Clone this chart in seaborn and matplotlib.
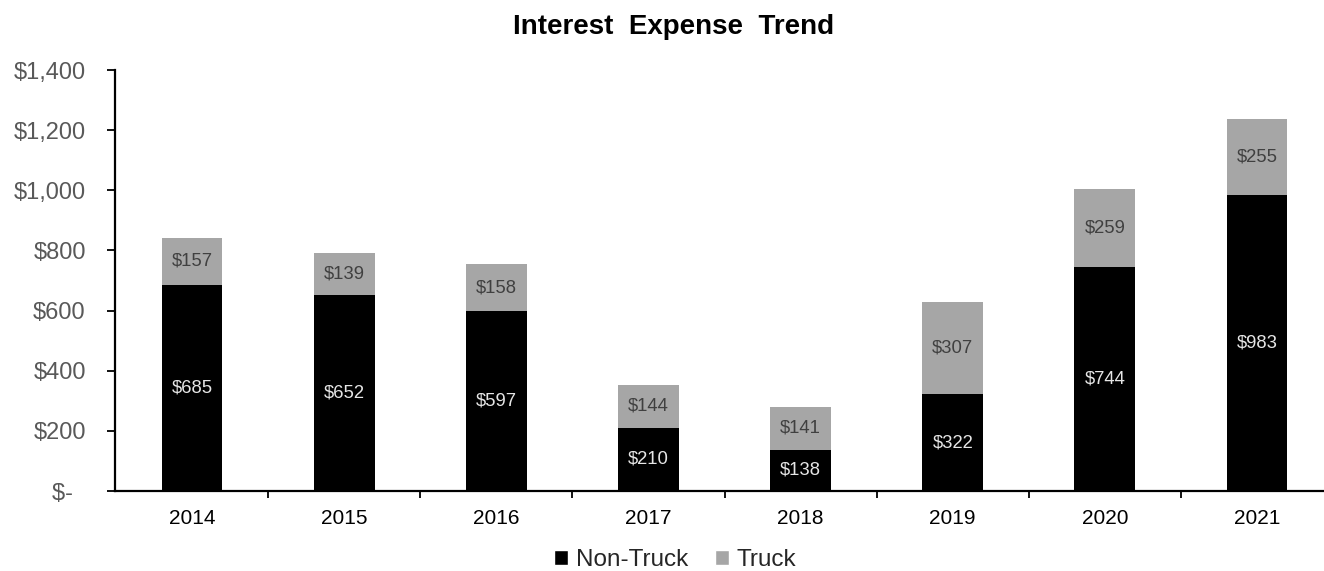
import matplotlib
matplotlib.use("Agg")
import matplotlib.pyplot as plt
import seaborn as sns
import pandas as pd
import numpy as np
from matplotlib.patches import Patch
from matplotlib.ticker import FixedLocator

# Interest expense by year, split into non-truck and truck portions ($M)
years = ["2014", "2015", "2016", "2017", "2018", "2019", "2020", "2021"]
non_truck = [685, 652, 597, 210, 138, 322, 744, 983]
truck = [157, 139, 158, 144, 141, 307, 259, 255]
y_ticks = [0, 200, 400, 600, 800, 1000, 1200, 1400]

BLACK = "#000000"
GRAY = "#a6a6a6"

sns.set_theme(style="white")
plt.rcParams["font.family"] = ["Liberation Sans", "DejaVu Sans"]

df = pd.DataFrame({"year": years, "non_truck": non_truck, "truck": truck})
df["total"] = df["non_truck"] + df["truck"]

fig = plt.figure(figsize=(13.24, 5.71), dpi=100)
ax = fig.add_axes([115 / 1324, 80 / 571, 1 - 115 / 1324, 421 / 571])

# Stacked bars: full height in gray, non-truck portion overdrawn in black
sns.barplot(data=df, x="year", y="total", color=GRAY, width=0.4,
            saturation=1, ax=ax, linewidth=0, zorder=2)
sns.barplot(data=df, x="year", y="non_truck", color=BLACK, width=0.4,
            saturation=1, ax=ax, linewidth=0, zorder=3)

# Value labels centred within each segment
for i, (nt, tr) in enumerate(zip(non_truck, truck)):
    ax.text(i, nt / 2, f"${nt:,}", ha="center", va="center",
            color="#e6e6e6", fontsize=13.3, zorder=4)
    ax.text(i, nt + tr / 2, f"${tr:,}", ha="center", va="center",
            color="#404040", fontsize=13.3, zorder=4)

ax.set_xlim(-0.506, 7.44)
ax.set_ylim(0, 1400)
ax.set_xlabel("")
ax.set_ylabel("")

ax.yaxis.set_major_locator(FixedLocator(y_ticks))
ax.set_yticklabels([f"${v:,}" if v else "$-  " for v in y_ticks])
ax.tick_params(axis="y", which="major", direction="out", length=6, width=1.3,
               color="black", pad=15, labelsize=17, labelcolor="#595959", left=True)

# Category ticks sit between bars; labels stay centred under each bar
ax.tick_params(axis="x", which="major", length=0, pad=13, labelsize=15,
               labelcolor="black")
ax.xaxis.set_minor_locator(FixedLocator(np.arange(0.5, len(years) - 0.5, 1)))
ax.tick_params(axis="x", which="minor", direction="out", length=5, width=1.3,
               color="black", bottom=True)

for side in ["top", "right"]:
    ax.spines[side].set_visible(False)
for side in ["left", "bottom"]:
    ax.spines[side].set_color("black")
    ax.spines[side].set_linewidth(1.6)

fig.text(674 / 1324, 1 - 27 / 571, "Interest  Expense  Trend", ha="center",
         va="center", fontsize=20, fontweight="bold", color="black")

handles = [Patch(facecolor=BLACK, label="Non-Truck"),
           Patch(facecolor=GRAY, label="Truck")]
fig.legend(handles=handles, loc="center", bbox_to_anchor=(675 / 1324, 1 - 560 / 571),
           ncol=2, frameon=False, fontsize=17.5, handlelength=0.6, handleheight=0.6,
           handletextpad=0.3, columnspacing=1.1, borderaxespad=0)

fig.savefig("out.png", dpi=100)
